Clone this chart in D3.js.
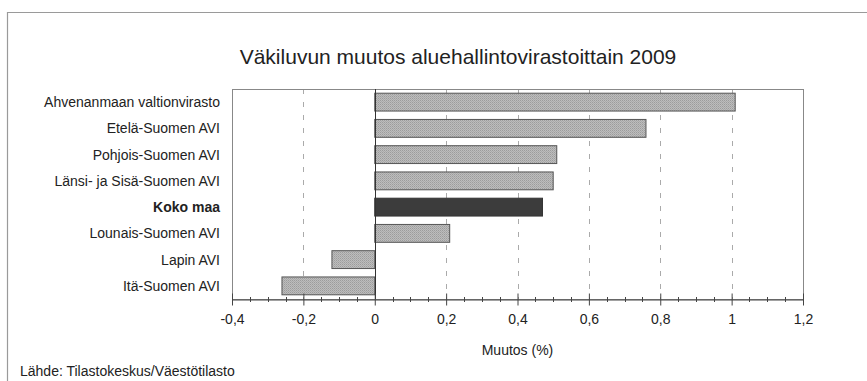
<!DOCTYPE html>
<html><head><meta charset="utf-8">
<script src="https://cdn.jsdelivr.net/npm/d3@7"></script>
<style>body{margin:0;background:#fff}svg{display:block}text{font-family:"Liberation Sans",Arial,sans-serif;fill:#222}</style>
</head><body>
<svg id="c" width="867" height="381"></svg>
<script>
const categories = ["Ahvenanmaan valtionvirasto","Etelä-Suomen AVI","Pohjois-Suomen AVI","Länsi- ja Sisä-Suomen AVI","Koko maa","Lounais-Suomen AVI","Lapin AVI","Itä-Suomen AVI"];
const values = [1.01, 0.76, 0.51, 0.50, 0.47, 0.21, -0.12, -0.26];
const highlight = ["Koko maa"];
const xTicks = [-0.4,-0.2,0,0.2,0.4,0.6,0.8,1,1.2];
const title = "Väkiluvun muutos aluehallintovirastoittain 2009";
const xTitle = "Muutos (%)";
const source = "Lähde: Tilastokeskus/Väestötilasto";

const svg = d3.select("#c");
const L = 232, R = 803, T = 89, B = 299;
const x = d3.scaleLinear().domain([-0.4, 1.2]).range([L, R]);
const y = d3.scaleBand().domain(categories).range([T, B]).paddingInner(0.32).paddingOuter(0.16);

const defs = svg.append("defs");
const pat = defs.append("pattern").attr("id","stip").attr("width",2).attr("height",2).attr("patternUnits","userSpaceOnUse");
pat.append("rect").attr("width",2).attr("height",2).attr("fill","#bdbdbd");
pat.append("rect").attr("width",1).attr("height",1).attr("fill","#9c9c9c");
pat.append("rect").attr("x",1).attr("y",1).attr("width",1).attr("height",1).attr("fill","#aaaaaa");

// outer frame
svg.append("path").attr("d","M7.5,381 V12.5 H867").attr("fill","none").attr("stroke","#9a9a9a").attr("stroke-width",1.2);

svg.append("text").attr("x",458).attr("y",64).attr("text-anchor","middle").attr("font-size",21).text(title);

// grid
svg.append("g").selectAll("line").data(xTicks.filter(d=>d!==0 && d!==-0.4 && d!==1.2)).join("line")
  .attr("x1",d=>Math.round(x(d))+0.5).attr("x2",d=>Math.round(x(d))+0.5).attr("y1",T).attr("y2",B)
  .attr("stroke","#aaa").attr("stroke-dasharray","5,8");

// plot border
svg.append("rect").attr("x",L+0.5).attr("y",T+0.5).attr("width",R-L).attr("height",B-T).attr("fill","none").attr("stroke","#888");

// bars
svg.append("g").selectAll("rect").data(values).join("rect")
  .attr("x",d=>x(Math.min(0,d))).attr("width",d=>Math.abs(x(d)-x(0)))
  .attr("y",(d,i)=>y(categories[i])).attr("height",y.bandwidth())
  .attr("fill",(d,i)=>highlight.includes(categories[i])?"#3c3c3c":"url(#stip)")
  .attr("stroke",(d,i)=>highlight.includes(categories[i])?"#333":"#555").attr("stroke-width",1);

// zero line
svg.append("line").attr("x1",Math.round(x(0))+0.5).attr("x2",Math.round(x(0))+0.5).attr("y1",T).attr("y2",B).attr("stroke","#333");

// category labels
svg.append("g").selectAll("text").data(categories).join("text")
  .attr("x",220).attr("y",d=>y(d)+y.bandwidth()/2).attr("dy","0.35em").attr("text-anchor","end")
  .attr("font-size",14).attr("font-weight",d=>highlight.includes(d)?"bold":"normal").text(d=>d);

// x axis
const fmt = d=>d3.format("")(Math.round(d*10)/10).replace(".",",").replace("−","-");
const ax = svg.append("g").attr("transform",`translate(0,${B+0.5})`)
  .call(d3.axisBottom(x).tickValues(xTicks).tickSize(6).tickSizeOuter(0).tickFormat(fmt));
ax.select(".domain").attr("stroke","#444");
ax.selectAll(".tick line").attr("stroke","#444").attr("y1",-6).attr("y2",6);
ax.selectAll(".tick text").attr("font-size",14).attr("font-family","Liberation Sans, Arial, sans-serif").attr("fill","#222").attr("y",15);
const minor = d3.range(-0.4, 1.2001, 0.05).filter(v=>Math.abs(Math.round(v*5)-v*5)>0.01);
svg.append("g").selectAll("line").data(minor).join("line")
  .attr("x1",d=>Math.round(x(d))+0.5).attr("x2",d=>Math.round(x(d))+0.5).attr("y1",B-2).attr("y2",B+3).attr("stroke","#444");

svg.append("text").attr("x",(L+R)/2).attr("y",355).attr("text-anchor","middle").attr("font-size",14).text(xTitle);
svg.append("text").attr("x",20).attr("y",376).attr("font-size",14).text(source);
</script>
</body></html>
